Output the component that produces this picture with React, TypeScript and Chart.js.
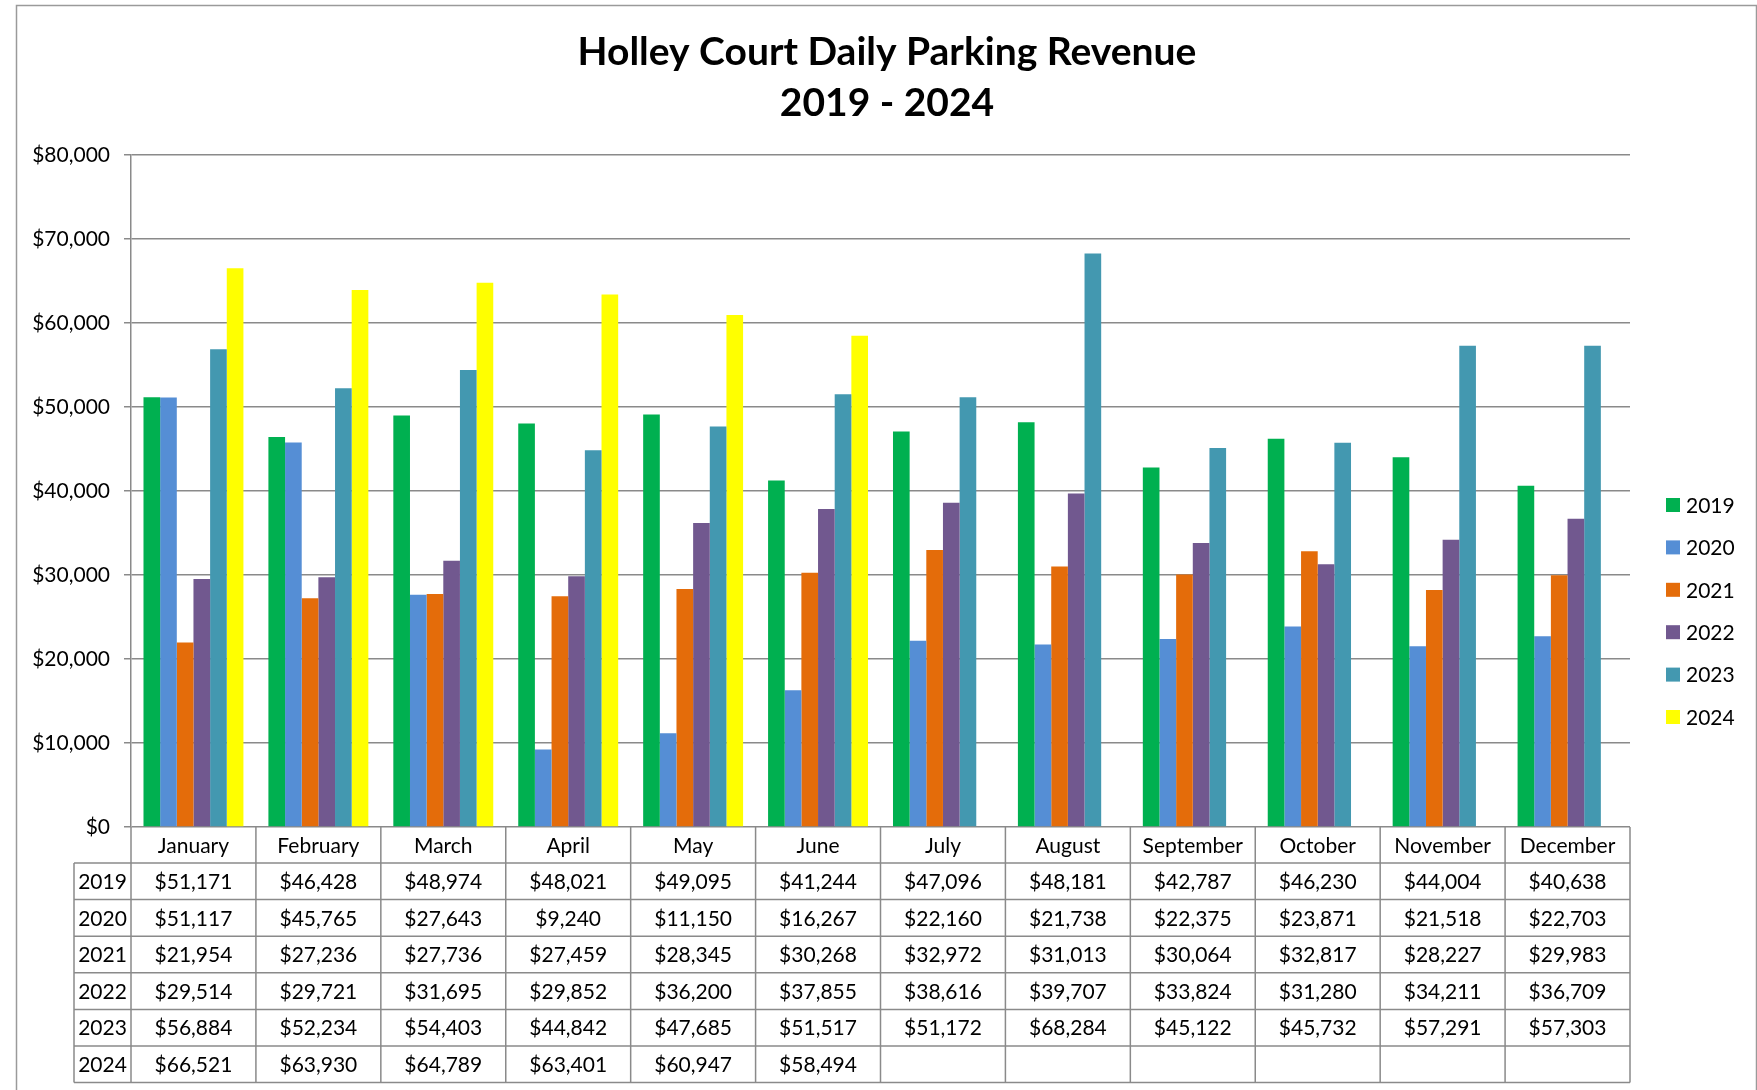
import React, { useEffect, useRef } from "react";
import { Chart, registerables } from "chart.js";

Chart.register(...registerables);

const months = ["January", "February", "March", "April", "May", "June", "July", "August", "September", "October", "November", "December"];
const years = ["2019", "2020", "2021", "2022", "2023", "2024"];
const rev2019 = [51171, 46428, 48974, 48021, 49095, 41244, 47096, 48181, 42787, 46230, 44004, 40638];
const rev2020 = [51117, 45765, 27643, 9240, 11150, 16267, 22160, 21738, 22375, 23871, 21518, 22703];
const rev2021 = [21954, 27236, 27736, 27459, 28345, 30268, 32972, 31013, 30064, 32817, 28227, 29983];
const rev2022 = [29514, 29721, 31695, 29852, 36200, 37855, 38616, 39707, 33824, 31280, 34211, 36709];
const rev2023 = [56884, 52234, 54403, 44842, 47685, 51517, 51172, 68284, 45122, 45732, 57291, 57303];
const rev2024 = [66521, 63930, 64789, 63401, 60947, 58494, null, null, null, null, null, null];
const seriesValues = [rev2019, rev2020, rev2021, rev2022, rev2023, rev2024];
const seriesColors = ["#00B050", "#558ED5", "#E46C0A", "#71588F", "#4398B0", "#FFFF00"];
const titleLines = ["Holley Court Daily Parking Revenue", "2019 - 2024"];

const FONT = "Lato, 'Open Sans', sans-serif";
const GRID = "#8a8a8a";

const fmt = (v: number) => "$" + v.toLocaleString("en-US");

const framePlugin = {
  id: "framePlugin",
  beforeDraw(chart: any) {
    const ctx = chart.ctx;
    ctx.save();
    ctx.fillStyle = "#ffffff";
    ctx.fillRect(0, 0, chart.width, chart.height);
    ctx.strokeStyle = "#9a9a9a";
    ctx.lineWidth = 1.5;
    ctx.strokeRect(16.5, 5.5, 1740, 1200);
    ctx.restore();
  },
  afterDraw(chart: any) {
    const ctx = chart.ctx;
    const xs = chart.scales.x;
    const area = chart.chartArea;
    const half = (xs.getPixelForTick(1) - xs.getPixelForTick(0)) / 2;
    const top = area.bottom;
    const headerH = 36;
    const rowH = 36.6;
    const labelLeft = 74;
    const nRows = years.length;
    const tableBottom = top + headerH + rowH * nRows;
    ctx.save();

    // title
    ctx.fillStyle = "#000";
    ctx.textAlign = "center";
    ctx.textBaseline = "middle";
    ctx.font = `bold 39px ${FONT}`;
    titleLines.forEach((t, i) => ctx.fillText(t, 887, 52 + 51 * i));

    ctx.strokeStyle = GRID;
    ctx.lineWidth = 1.5;
    // vertical lines
    ctx.beginPath();
    for (let i = 0; i <= months.length; i++) {
      const xp = i < months.length ? xs.getPixelForTick(i) - half : xs.getPixelForTick(months.length - 1) + half;
      ctx.moveTo(xp, top);
      ctx.lineTo(xp, tableBottom);
    }
    ctx.moveTo(labelLeft, top + headerH);
    ctx.lineTo(labelLeft, tableBottom);
    // horizontal lines
    const right = xs.getPixelForTick(months.length - 1) + half;
    for (let r = 0; r <= nRows; r++) {
      const yp = top + headerH + rowH * r;
      ctx.moveTo(labelLeft, yp);
      ctx.lineTo(right, yp);
    }
    ctx.stroke();

    ctx.fillStyle = "#000";
    ctx.font = `21px ${FONT}`;
    ctx.textAlign = "center";
    ctx.textBaseline = "middle";
    months.forEach((m, i) => {
      ctx.fillText(m, xs.getPixelForTick(i), top + headerH / 2 + 1);
    });
    const yearCenter = (labelLeft + xs.getPixelForTick(0) - half) / 2;
    years.forEach((yr, r) => {
      const yc = top + headerH + rowH * r + rowH / 2 + 1;
      ctx.fillText(yr, yearCenter, yc);
      seriesValues[r].forEach((v, i) => {
        if (v !== null && v !== undefined) ctx.fillText(fmt(v as number), xs.getPixelForTick(i), yc);
      });
    });

    // legend
    const legendY0 = 505;
    const legendStep = 42.4;
    years.forEach((yr, r) => {
      const yc = legendY0 + legendStep * r;
      ctx.fillStyle = seriesColors[r];
      ctx.fillRect(1666, yc - 7, 14, 14);
      ctx.fillStyle = "#000";
      ctx.textAlign = "left";
      ctx.fillText(yr, 1686, yc + 1);
    });
    ctx.restore();
  },
};

export default function App() {
  const ref = useRef<HTMLCanvasElement | null>(null);
  useEffect(() => {
    if (!ref.current) return;
    const chart = new Chart(ref.current, {
      type: "bar",
      data: {
        labels: months,
        datasets: years.map((yr, i) => ({
          label: yr,
          data: seriesValues[i],
          backgroundColor: seriesColors[i],
          borderWidth: 0,
          categoryPercentage: 0.8,
          barPercentage: 1.0,
        })),
      },
      options: {
        responsive: false,
        animation: false,
        layout: { padding: { left: 0, right: 127, top: 155, bottom: 0 } },
        plugins: {
          legend: { display: false },
          tooltip: { enabled: false },
          title: { display: false },
        },
        scales: {
          x: {
            grid: { display: false },
            border: { display: false },
            ticks: { display: false },
            afterFit: (s: any) => {
              s.height = 263;
            },
          },
          y: {
            min: 0,
            max: 80000,
            ticks: {
              stepSize: 10000,
              color: "#000",
              font: { family: FONT, size: 21 },
              padding: 14,
              callback: (v: any) => fmt(Number(v)),
            },
            grid: { color: GRID, lineWidth: 1.5, tickLength: 7 },
            border: { color: GRID, width: 1.5 },
            afterFit: (s: any) => {
              s.width = 131;
            },
          },
        },
      },
      plugins: [framePlugin],
    });
    return () => chart.destroy();
  }, []);
  return (
    <div style={{ position: "absolute", left: 0, top: 0, width: 1757, height: 1090, background: "#fff" }}>
      <canvas ref={ref} width={1757} height={1090} style={{ width: 1757, height: 1090, display: "block" }} />
    </div>
  );
}
